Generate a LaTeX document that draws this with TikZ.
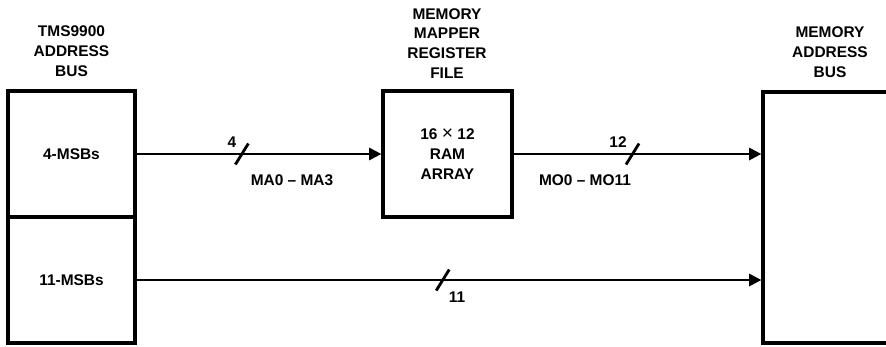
\documentclass[tikz,border=0pt]{standalone}
\usepackage{fontspec}
\setmainfont{Liberation Sans}
\usetikzlibrary{arrows.meta,positioning}
\tikzset{
  busbox/.style={
    rectangle,
    draw=black,
    line width=1.9pt,
    minimum width=2.54cm,
    minimum height=2.52cm,
    inner sep=0pt,
    align=center,
    font=\fontsize{8.8}{11.3}\selectfont\bfseries
  },
  buslabel/.style={
    align=center,
    inner sep=0pt,
    font=\fontsize{8.8}{11.3}\selectfont\bfseries
  },
  busarrow/.style={
    -{Triangle[length=7pt,width=7pt]},
    line width=1.3pt,
    draw=black
  },
  widthmark/.style={
    line width=1.6pt,
    draw=black
  }
}

\begin{document}
\begin{tikzpicture}[x=0.02cm,y=-0.02cm]
\useasboundingbox (0,0) rectangle (886,346);
\clip (0,0) rectangle (886,346);
% boxes
\node[busbox] (msb4) at (71.5,154) {4-MSBs};
\node[busbox] (msb11) at (71.5,280) {11-MSBs};
\node[busbox, minimum width=2.58cm] (ram) at (447.5,154) {16 {\fontsize{11}{11}\selectfont\mdseries ×} 12\\RAM\\ARRAY};
\node[busbox, minimum width=3cm, minimum height=5.02cm] (membus) at (838,217.5) {};
% titles
\node[buslabel, anchor=south] (cputitle) at (71.5,77) {TMS9900\\ADDRESS\\BUS};
\node[buslabel, anchor=south] (ramtitle) at (447,79) {MEMORY\\MAPPER\\REGISTER\\FILE};
\node[buslabel, anchor=south] (memtitle) at (830,78) {MEMORY\\ADDRESS\\BUS};
% buses
\draw[busarrow] (msb4.east) -- coordinate[pos=0.43] (s4) (msb4.east -| ram.west);
\draw[busarrow] (ram.east) -- coordinate[pos=0.48] (s12) (ram.east -| membus.west);
\draw[busarrow] (msb11.east) -- coordinate[pos=0.49] (s11) (msb11.east -| membus.west);
\draw[widthmark] (s4) ++(-6.5,10.5) -- ++(13,-21);
\draw[widthmark] (s12) ++(-6.5,10.5) -- ++(13,-21);
\draw[widthmark] (s11) ++(-6.5,10.5) -- ++(13,-21);
% labels
\node[buslabel] (n4) at (232,142) {4};
\node[buslabel] (ma) at (292,180) {MA0 -- MA3};
\node[buslabel] (n12) at (618,142) {12};
\node[buslabel] (mo) at (585,180) {MO0 -- MO11};
\node[buslabel] (n11) at (457,297) {11};
\end{tikzpicture}
\end{document}
